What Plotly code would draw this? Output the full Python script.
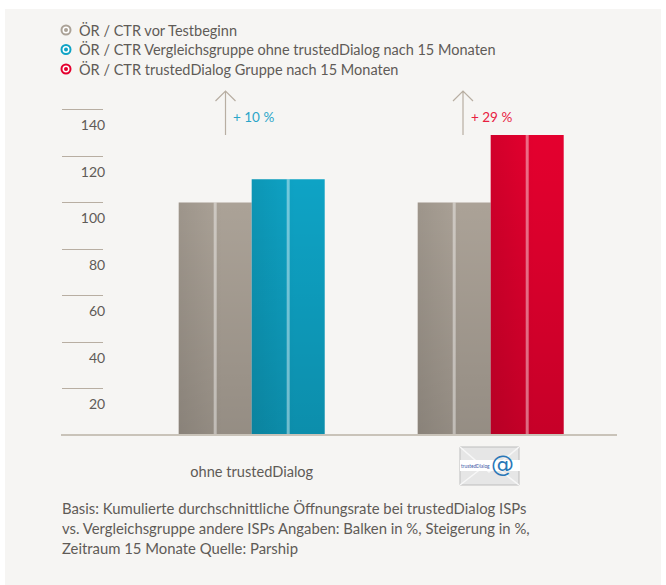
import plotly.graph_objects as go

W, H = 666, 585
L, R, T, B = 104, 617, 87, 435
PX_PER_UNIT = 2.325
SPACING = 239.0

categories = ["ohne trustedDialog", "mit trustedDialog"]
tick_labels = ["ohne trustedDialog", ""]
y_ticks = [20, 40, 60, 80, 100, 120, 140]
before = [100, 100]
control = [110, None]
treated = [None, 129]
legend_names = ["ÖR / CTR vor Testbeginn",
                "ÖR / CTR Vergleichsgruppe ohne trustedDialog nach 15 Monaten",
                "ÖR / CTR trustedDialog Gruppe nach 15 Monaten"]
uplift = ["+ 10 %", "+ 29 %"]
footer = ["Basis: Kumulierte durchschnittliche Öffnungsrate bei trustedDialog ISPs",
          "vs. Vergleichsgruppe andere ISPs Angaben: Balken in %, Steigerung in %,",
          "Zeitraum 15 Monate Quelle: Parship"]

GRAY, BLUE, RED = "#aba297", "#0ea3c5", "#e4002e"
FONT = "Lato"
TXT = "#5f5b57"
LINE = "#b8aea2"

def px(x): return (x - L) / (R - L)
def py(y): return (B - y) / (B - T)

x_pos = [0, 1]
x0 = (L - 251.7) / SPACING
x1 = (R - 251.7) / SPACING
slot = 73 / SPACING

fig = go.Figure()
series = [(legend_names[0], before, GRAY, "1", -slot / 2),
          (legend_names[1], control, BLUE, "2", slot / 2),
          (legend_names[2], treated, RED, "2", slot / 2)]
for name, vals, col, og, off in series:
    fig.add_bar(x=x_pos, y=vals, name=name, marker=dict(color=col, line_width=0),
                offsetgroup=og, showlegend=False)

# soft shading and centre stripe of every bar, derived from the values
for name, vals, col, og, off in series:
    for xp, v in zip(x_pos, vals):
        if v is None:
            continue
        cx = xp + off
        xs = [cx - slot / 2, cx + slot / 2, cx + slot / 2, cx - slot / 2, cx - slot / 2]
        ys = [0, 0, v, v, 0]
        for kind, scale in [("horizontal", [[0, "rgba(0,0,0,0.08)"], [0.6, "rgba(0,0,0,0)"], [1, "rgba(0,0,0,0)"]]),
                            ("vertical", [[0, "rgba(0,0,0,0.13)"], [1, "rgba(0,0,0,0)"]])]:
            fig.add_scatter(x=xs, y=ys, mode="lines", line=dict(width=0), fill="toself",
                            fillgradient=dict(type=kind, colorscale=scale),
                            hoverinfo="skip", showlegend=False)
        fig.add_scatter(x=[cx, cx], y=[0, v], mode="lines",
                        line=dict(color="rgba(255,255,255,0.42)", width=3),
                        hoverinfo="skip", showlegend=False)

shapes = []
annos = []
# panel
shapes.append(dict(type="rect", xref="paper", yref="paper", x0=px(5), x1=px(661), y0=py(9), y1=py(585),
                   fillcolor="#f6f5f3", line_width=0, layer="below"))
# baseline
shapes.append(dict(type="line", xref="paper", yref="paper", x0=px(61), x1=px(617), y0=py(435), y1=py(435),
                   line=dict(color="#c9c3b9", width=2)))
# legend
for i, (name, col) in enumerate(zip(legend_names, [GRAY, BLUE, RED])):
    yc = 30 + i * 19.5
    shapes.append(dict(type="circle", xref="paper", yref="paper", x0=px(61.5), x1=px(70.5), y0=py(yc - 4.5), y1=py(yc + 4.5),
                       fillcolor="white", line=dict(color=col, width=2)))
    shapes.append(dict(type="circle", xref="paper", yref="paper", x0=px(64), x1=px(68), y0=py(yc - 2), y1=py(yc + 2),
                       fillcolor=col, line_width=0))
    annos.append(dict(xref="paper", yref="paper", x=px(78), y=py(yc), text=name, showarrow=False, xanchor="left",
                      yanchor="middle", xshift=-1, font=dict(family=FONT, size=14.5, color=TXT)))
# arrows
for xa, txt, col in [(225.5, uplift[0], "#2aa5c9"), (463, uplift[1], "#e8203f")]:
    shapes.append(dict(type="path", xref="paper", yref="paper",
                       path=f"M {px(xa)} {py(135)} L {px(xa)} {py(91)} M {px(xa-10)} {py(101)} L {px(xa)} {py(91)} L {px(xa+10)} {py(101)}",
                       line=dict(color=LINE, width=1.2)))
    annos.append(dict(xref="paper", yref="paper", x=px(xa + 7.5), y=py(117), text=txt, showarrow=False, xanchor="left",
                      yanchor="middle", xshift=-2, font=dict(family=FONT, size=13.5, color=col)))
# footer
for i, t in enumerate(footer):
    annos.append(dict(xref="paper", yref="paper", x=px(62), y=py(508 + i * 20), text=t, showarrow=False, xanchor="left",
                      yanchor="middle", xshift=-2, font=dict(family=FONT, size=14.85, color=TXT)))
# trustedDialog envelope
shapes.append(dict(type="rect", xref="paper", yref="paper", x0=px(460), x1=px(519), y0=py(447), y1=py(485),
                   fillcolor="#e6e6e6", line=dict(color="#bdbdbd", width=1)))
shapes.append(dict(type="path", xref="paper", yref="paper",
                   path=f"M {px(460)} {py(447)} L {px(489)} {py(472)} L {px(519)} {py(447)} M {px(460)} {py(485)} L {px(482)} {py(468)} M {px(519)} {py(485)} L {px(497)} {py(468)}",
                   line=dict(color="#f7f7f7", width=1.5)))
shapes.append(dict(type="rect", xref="paper", yref="paper", x0=px(460), x1=px(520), y0=py(460), y1=py(471),
                   fillcolor="white", line_width=0))
annos.append(dict(xref="paper", yref="paper", x=px(460), y=py(465.5), text="trustedDialog", showarrow=False, xanchor="left",
                  yanchor="middle", xshift=-1, font=dict(family=FONT, size=4.8, color="#3d5aa8")))
annos.append(dict(xref="paper", yref="paper", x=px(490), y=py(464), text="@", showarrow=False, xanchor="left",
                  yanchor="middle", xshift=-1, font=dict(family="DejaVu Sans", size=23, color="#2a78b8")))

fig.update_layout(
    width=W, height=H, margin=dict(l=L, r=W - R, t=T, b=H - B), autosize=False,
    paper_bgcolor="white", plot_bgcolor="rgba(0,0,0,0)", barmode="group", bargap=1 - 2 * slot, bargroupgap=0,
    showlegend=False, shapes=shapes, annotations=annos,
    xaxis=dict(range=[x0, x1], tickmode="array", tickvals=x_pos, ticktext=tick_labels, showgrid=False, zeroline=False,
               showline=False, ticks="outside", ticklen=23, tickcolor="rgba(0,0,0,0)",
               tickfont=dict(family=FONT, size=14.6, color=TXT)),
    yaxis=dict(range=[0, (B - T) / PX_PER_UNIT], tickmode="array", tickvals=y_ticks, showgrid=False, zeroline=False,
               showline=False, ticks="outside", ticklen=41, tickwidth=1, tickcolor=LINE,
               ticklabelstandoff=-46, ticklabelshift=16, tickfont=dict(family=FONT, size=14, color=TXT)),
)
fig.write_html("out.html", config=dict(displayModeBar=False),
               post_script="document.body.style.margin='0';document.documentElement.style.overflow='hidden';")
